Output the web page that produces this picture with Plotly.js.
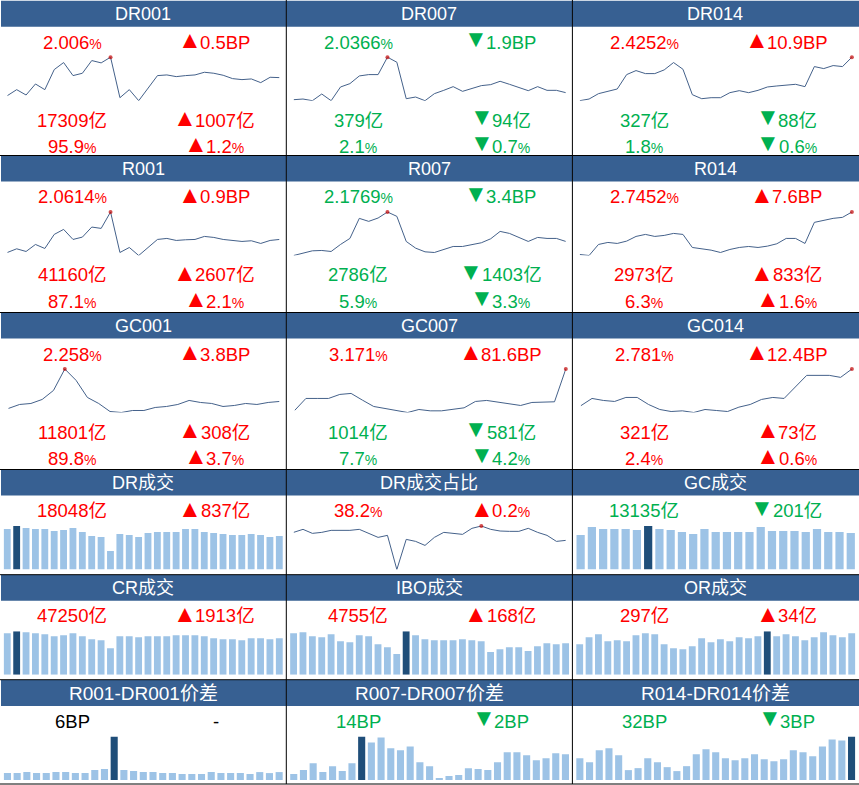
<!DOCTYPE html>
<html>
<head>
<meta charset="utf-8">
<script src="https://cdn.plot.ly/plotly-3.0.1.min.js"></script>
<style>html,body{margin:0;padding:0;background:#fff}#c{width:859px;height:785px}</style>
</head>
<body>
<div id="c"></div>
<script>
// ---------- panel labels ----------
const titles = ['DR001','DR007','DR014','R001','R007','R014','GC001','GC007','GC014',
  'DR成交','DR成交占比','GC成交','CR成交','IBO成交','OR成交','R001-DR001价差','R007-DR007价差','R014-DR014价差'];
const topLeft = ['2.006%','2.0366%','2.4252%','2.0614%','2.1769%','2.7452%','2.258%','3.171%','2.781%',
  '18048亿','38.2%','13135亿','47250亿','4755亿','297亿','6BP','14BP','32BP'];
const topRight = ['▲0.5BP','▼1.9BP','▲10.9BP','▲0.9BP','▼3.4BP','▲7.6BP','▲3.8BP','▲81.6BP','▲12.4BP',
  '▲837亿','▲0.2%','▼201亿','▲1913亿','▲168亿','▲34亿','-','▼2BP','▼3BP'];
const midLeft = ['17309亿','379亿','327亿','41160亿','2786亿','2973亿','11801亿','1014亿','321亿'];
const midRight = ['▲1007亿','▼94亿','▼88亿','▲2607亿','▼1403亿','▲833亿','▲308亿','▼581亿','▲73亿'];
const lowLeft = ['95.9%','2.1%','1.8%','87.1%','5.9%','6.3%','89.8%','7.7%','2.4%'];
const lowRight = ['▲1.2%','▼0.7%','▼0.6%','▲2.1%','▼3.3%','▲1.6%','▲3.7%','▼4.2%','▲0.6%'];

const dr001 = [15,33,17,50,33,93,114,75,82,120,113,130,9,33,0,38,75,77,72,75,77,85,82,76,66,63,65,54,70,69];
const dr007 = [3,5,0,20,0,41,51,74,78,78,130,115,6,11,0,21,31,42,28,37,45,48,58,49,39,30,42,31,31,24];
const dr014 = [0,5,21,27,35,78,90,81,81,92,114,94,18,6,9,9,24,30,24,31,41,44,46,49,42,102,96,105,102,130];
const r001 = [9,20,12,33,21,63,78,48,55,85,81,130,9,24,0,24,48,51,45,47,48,57,54,48,45,42,44,36,45,48];
const r007 = [0,8,14,15,12,33,51,111,102,112,130,117,42,22,11,9,18,27,27,32,38,50,72,66,53,42,54,51,51,42];
const r014 = [3,0,33,39,36,43,57,63,57,60,66,63,24,20,16,9,18,24,27,24,28,35,51,51,36,99,105,111,114,130];
const gc001 = [12,24,27,39,66,130,96,45,27,3,0,6,6,15,18,24,36,30,27,18,21,27,24,30,33];
const gc007 = [6,42,42,42,54,57,37,18,12,6,0,9,5,5,10,14,33,36,31,25,21,30,30,32,130];
const gc014 = [20,42,36,33,45,45,24,9,3,5,0,9,6,3,16,24,39,45,42,77,111,111,111,105,130];
const drShare = [111,120,108,111,117,117,117,120,108,96,102,0,90,84,72,96,111,108,105,123,130,120,115,114,114,123,111,102,84,87];

// ---------- bar series (relative level) ----------
const drVol = [122,131,125,122,122,116,119,125,113,101,98,56,107,104,98,110,113,113,113,122,122,113,110,107,104,104,107,104,98,101];
const gcVol = [104,128,122,122,122,119,131,122,119,113,107,122,113,113,113,113,128,116,116,116,113,122,113,113,110];
const crVol = [125,131,128,125,122,116,119,125,116,107,104,80,116,116,113,116,116,116,119,119,119,116,110,107,107,104,110,110,107,110];
const iboVol = [125,128,116,113,122,101,98,119,116,92,83,62,131,119,107,104,104,104,107,104,101,68,77,83,83,71,86,95,92,95];
const orVol = [92,113,122,101,104,101,119,125,122,92,80,77,86,110,98,107,101,113,110,116,131,116,122,116,104,113,128,119,113,125];
const spread001 = [21,21,24,21,21,24,24,21,21,30,33,132,30,27,24,24,21,21,18,18,18,24,21,21,21,18,24,21,24];
const spread007 = [18,30,51,24,42,27,51,132,114,129,96,90,102,54,42,6,12,15,36,33,30,54,84,84,75,60,66,81,78];
const spread014 = [66,54,90,96,75,30,36,66,54,39,27,42,78,93,84,66,60,66,78,63,57,63,90,84,72,102,123,120,132];

const series = [dr001,dr007,dr014,r001,r007,r014,gc001,gc007,gc014,
  drVol,drShare,gcVol,crVol,iboVol,orVol,spread001,spread007,spread014];
const isLine = i => i < 9 || i === 10;

// ---------- page geometry and styling ----------
const W = 859, H = 785;
const colX = [0, 286.3, 572.4];
const rowY = [0.7, 155.5, 312.5, 469.5, 574.7, 680];
const rowEnd = 784;
const RED = '#FF0000', GREEN = '#00B050', BLACK = '#000000';
const FONT = 'Liberation Sans, Noto Sans CJK SC, sans-serif';
const SIZE = 18.5, PCT = 14, TRI = 24;
const px = v => v / W, py = v => 1 - v / H;
const peak = a => a.indexOf(Math.max(...a));
const tone = s => s[0] === '▲' ? RED : s[0] === '▼' ? GREEN : BLACK;
const rich = s => s.replace(/%/g, `<span style="font-size:${PCT}px">%</span>`);

const ctx = document.createElement('canvas').getContext('2d');
function widthOf(s) {
  ctx.font = SIZE + 'px ' + FONT;
  const w = ctx.measureText(s.replace('%', '')).width;
  ctx.font = PCT + 'px ' + FONT;
  return w + (s.includes('%') ? ctx.measureText('%').width : 0);
}

const traces = [], shapes = [], annotations = [];
const layout = {
  width: W, height: H, margin: {l:0,r:0,t:0,b:0}, showlegend: false,
  paper_bgcolor: '#fff', plot_bgcolor: 'rgba(0,0,0,0)', bargap: 0.27, hovermode: false
};

const txt = (text, cx, cy, color, size, anchor) => annotations.push({xref:'paper', yref:'paper', x:px(cx), y:py(cy),
  text:text, showarrow:false, xanchor:anchor || 'center', yanchor:'middle',
  xshift:0, borderpad:0, font:{family:FONT, size:size, color:color}});

// change figure: an arrow glyph followed by its value, centred as one group
function change(s, cx, cy, color) {
  if (s[0] !== '▲' && s[0] !== '▼') { txt(rich(s), cx, cy, color, SIZE); return; }
  const body = s.slice(1), triW = 14, gap = 2.5;
  const start = cx - (triW + gap + widthOf(body)) / 2;
  txt(s[0], start + triW / 2, cy - (s[0] === '▲' ? 2.5 : 3.5), color, TRI);
  txt(rich(body), start + triW + gap, cy, color, SIZE, 'left');
}

series.forEach((vals, i) => {
  const col = i % 3, row = Math.floor(i / 3), n = vals.length;
  const x0 = colX[col], top = rowY[row], k = i + 1;
  const xa = 'xaxis' + (k === 1 ? '' : k), ya = 'yaxis' + (k === 1 ? '' : k);
  const xr = 'x' + (k === 1 ? '' : k), yr = 'y' + (k === 1 ? '' : k);
  const m = peak(vals), xs = vals.map((_, j) => j);
  let dom, range;
  if (isLine(i)) {
    const start = n === 25 ? 8.3 : 7.3;
    dom = [px(x0 + start), px(x0 + 279.5)];
    range = [0, n - 1];
    traces.push({type:'scatter', mode:'lines+markers', x:xs, y:vals, xaxis:xr, yaxis:yr, cliponaxis:false,
      line:{color:'#44618A', width:1},
      marker:{size:vals.map((_, j) => j === m ? 4 : 0), color:'#C00000', line:{width:0}}});
  } else {
    dom = [px(x0 + 2.6), px(x0 + 284)];
    range = [-0.5, n - 0.5];
    traces.push({type:'bar', x:xs, y:vals, xaxis:xr, yaxis:yr,
      marker:{color:vals.map((_, j) => j === m ? '#1F4E79' : '#9DC3E6'), line:{width:0}}});
  }
  layout[xa] = {domain:dom, range:range, visible:false, fixedrange:true, anchor:yr};
  layout[ya] = {domain:[py(top + 100), py(top + 56.5)], range:[0, Math.max(...vals)], visible:false, fixedrange:true, anchor:xr};

  // header band and title
  shapes.push({type:'rect', xref:'paper', yref:'paper', layer:'below',
    x0:px(col === 0 ? 1 : x0), x1:px(col === 2 ? W : colX[col + 1]), y0:py(top + 26), y1:py(top),
    fillcolor:'#376092', line:{width:0}});
  txt(titles[i], x0 + 143, top + 13.5, '#FFFFFF', row === 5 ? 19 : 18);

  const cL = tone(topRight[i]);
  const lineY = row < 3 ? 41.5 : 41;
  txt(rich(topLeft[i]), x0 + 72, top + lineY, cL, SIZE);
  change(topRight[i], x0 + 216, top + lineY, cL);
  if (row < 3) {
    const c2 = tone(midRight[i]), c3 = tone(lowRight[i]);
    txt(rich(midLeft[i]), x0 + 72, top + 119.5, c2, SIZE);
    change(midRight[i], x0 + 216, top + 119.5, c2);
    txt(rich(lowLeft[i]), x0 + 72, top + 145.5, c3, SIZE);
    change(lowRight[i], x0 + 216, top + 145.5, c3);
  }
});

// black grid rules
[rowY[1], rowY[2], rowY[3], rowY[4], rowY[5] - 0.3, rowEnd].forEach(y => shapes.push({type:'line', xref:'paper', yref:'paper',
  x0:0, x1:1, y0:py(y), y1:py(y), line:{color:'#000', width:1}, layer:'above'}));
[colX[1], colX[2]].forEach(x => shapes.push({type:'line', xref:'paper', yref:'paper',
  x0:px(x), x1:px(x), y0:py(rowEnd), y1:1, line:{color:'#000', width:1}, layer:'above'}));

layout.shapes = shapes;
layout.annotations = annotations;
Plotly.newPlot('c', traces, layout, {displayModeBar:false, staticPlot:true});
</script>
</body>
</html>
